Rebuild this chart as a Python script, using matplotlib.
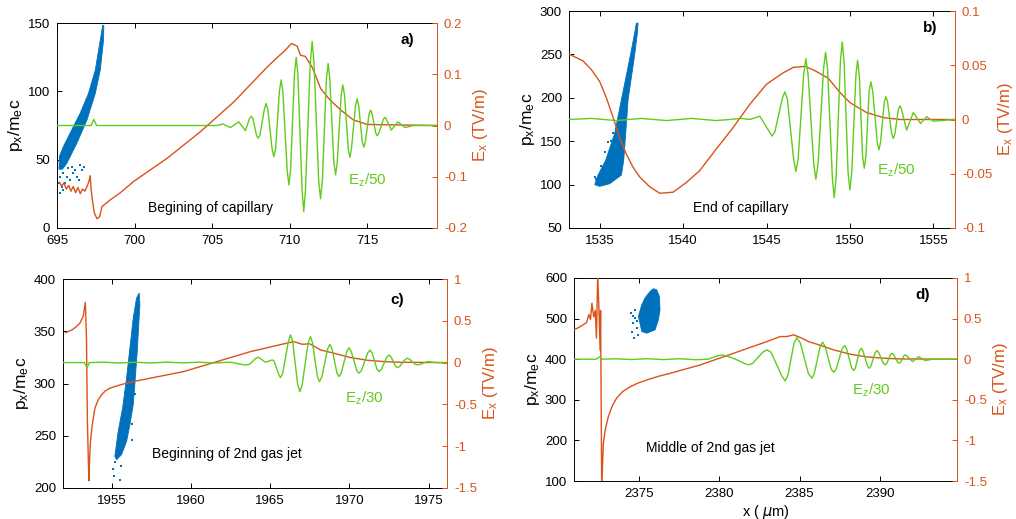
"""Beam momentum and wakefield snapshots at four positions along the plasma."""

import matplotlib
matplotlib.use("Agg")
import matplotlib.pyplot as plt
from matplotlib.ticker import FormatStrFormatter

plt.rcParams["font.family"] = ["Liberation Sans", "DejaVu Sans"]
plt.rcParams["mathtext.default"] = "regular"
plt.rcParams["axes.unicode_minus"] = False

BLUE = "#0072bd"
ORANGE = "#d95319"
GREEN = "#60cc1c"

# --- panel a: beginning of capillary ---
a_beam_x = [695.13, 695.15, 695.41, 695.84, 696.49, 697.03, 697.47, 697.79, 697.95,
            698.02, 698.0, 697.79, 697.47, 696.93, 696.28, 695.63, 695.35]
a_beam_y = [43, 52.2, 59.5, 69.3, 83.9, 98.5, 115.6, 137.5, 148.5,
            148, 137.5, 115.6, 98.5, 79, 62, 47.3, 43]
a_dots_x = [695.19, 695.41, 695.74, 695.95, 696.17, 696.49, 695.84, 695.52, 695.30,
            695.63, 696.06, 696.28, 696.60, 695.19, 695.41, 696.39, 696.71, 695.15]
a_dots_y = [37.5, 40, 43.7, 44.9, 42.4, 46.1, 35.1, 32.7, 30.2,
            37.5, 40, 37.5, 42.4, 25.4, 27.8, 35.1, 44.9, 32.7]
a_ex_x = [695.15, 695.3, 695.45, 695.6, 695.75, 695.9, 696.05, 696.2, 696.35, 696.5,
          696.65, 696.8, 696.95, 697.05, 697.14, 697.2, 697.28, 697.4, 697.58, 697.75,
          697.9, 698.44, 699.09, 699.95, 702.1, 704.25, 706.4, 708.55, 709.1, 709.62,
          710.12, 710.48, 710.7, 711.0, 711.45, 712.0, 712.6, 713.3, 714.1, 715.0, 719.5]
a_ex_y = [-0.111, -0.118, -0.112, -0.124, -0.117, -0.128, -0.119, -0.131, -0.121, -0.133,
          -0.124, -0.128, -0.118, -0.110, -0.098, -0.125, -0.145, -0.170, -0.182, -0.178,
          -0.158, -0.145, -0.131, -0.109, -0.064, -0.012, 0.046, 0.114, 0.130, 0.144,
          0.160, 0.155, 0.137, 0.135, 0.114, 0.072, 0.050, 0.030, 0.011, 0.002, 0.0]
a_ez_x = [695.0, 697.2, 697.37, 697.55, 705.3, 705.7, 706.18, 706.72, 707.15,
          707.41, 707.52, 707.63, 707.86, 707.97, 708.08, 708.37, 708.48, 708.59,
          708.87, 708.98, 709.09, 709.34, 709.45, 709.56, 709.84, 709.95, 710.06,
          710.31, 710.42, 710.53, 710.80, 710.91, 711.02, 711.33, 711.45, 711.57,
          711.87, 711.99, 712.11, 712.37, 712.48, 712.59, 712.85, 712.96, 713.07,
          713.32, 713.43, 713.54, 713.78, 713.88, 713.98, 714.25, 714.35, 714.45,
          714.68, 714.78, 714.88, 715.12, 715.22, 715.32, 715.55, 715.65, 715.75,
          716.04, 716.14, 716.24, 716.55, 716.98, 717.43, 718.0, 719.5]
a_ez_y = [0.0, 0.0, 0.012, 0.0, 0.0, 0.003, -0.004, 0.007, -0.010,
          0.0135, 0.018, 0.0135, -0.019, -0.025, -0.019, 0.032, 0.043, 0.032,
          -0.046, -0.061, -0.046, 0.067, 0.089, 0.067, -0.087, -0.116, -0.087,
          0.100, 0.133, 0.100, -0.126, -0.168, -0.126, 0.123, 0.164, 0.123,
          -0.107, -0.143, -0.107, 0.091, 0.121, 0.091, -0.072, -0.096, -0.072,
          0.059, 0.079, 0.059, -0.047, -0.062, -0.047, 0.039, 0.052, 0.039,
          -0.032, -0.042, -0.032, 0.0225, 0.030, 0.0225, -0.015, -0.020, -0.015,
          0.012, 0.016, 0.012, -0.009, 0.007, -0.004, 0.0, 0.0]

# --- panel b: end of capillary ---
b_beam_x = [1534.7, 1534.9, 1535.36, 1535.9, 1536.3, 1536.85, 1537.1, 1537.2,
            1537.3, 1537.26, 1537.1, 1536.7, 1536.56, 1536.44, 1536.3, 1535.6, 1535.0]
b_beam_y = [100, 111, 128, 159, 197.5, 250, 275, 286,
            286, 275, 250, 197.5, 159, 128, 111, 101, 98]
b_dots_x = [1534.9, 1534.8, 1535.5, 1535.7, 1535.3, 1535.1, 1535.8, 1534.7, 1535.4]
b_dots_y = [107.3, 106.3, 149.4, 150.5, 137.9, 121.5, 159.1, 108.6, 103]
b_ex_x = [1533.2, 1534.0, 1534.5, 1535.0, 1535.4, 1535.8, 1536.2, 1536.6, 1537.0, 1537.4,
          1538.0, 1538.6, 1539.4, 1540.2, 1541.0, 1542.0, 1543.0, 1544.0, 1545.0, 1546.0,
          1546.6, 1547.3, 1547.9, 1548.7, 1549.4, 1550.0, 1551.0, 1552.0, 1553.0, 1556.3]
b_ex_y = [0.060, 0.054, 0.046, 0.035, 0.020, 0.002, -0.017, -0.032, -0.044, -0.053,
          -0.062, -0.068, -0.067, -0.058, -0.047, -0.027, -0.0074, 0.014, 0.0325, 0.043,
          0.048, 0.049, 0.045, 0.038, 0.025, 0.0156, 0.0064, 0.0018, 0.0, 0.0]
b_ez_x = [1533.16, 1534.5, 1536.0, 1537.5, 1539.0, 1540.5, 1542.0, 1543.5, 1544.0, 1544.6,
          1545.18, 1545.34, 1545.50, 1545.94, 1546.10, 1546.25, 1546.62, 1546.76, 1546.90,
          1547.23, 1547.36, 1547.49, 1547.83, 1547.96, 1548.09, 1548.42, 1548.54, 1548.66,
          1548.95, 1549.06, 1549.17, 1549.43, 1549.54, 1549.65, 1549.89, 1550.0, 1550.11,
          1550.36, 1550.46, 1550.56, 1550.76, 1550.86, 1550.96, 1551.15, 1551.26, 1551.37,
          1551.64, 1551.74, 1551.84, 1552.06, 1552.16, 1552.26, 1552.50, 1552.60, 1552.70,
          1552.91, 1553.0, 1553.09, 1553.40, 1553.80, 1554.24, 1554.6, 1555.0, 1556.3]
b_ez_y = [0.0, 0.001, -0.001, 0.001, -0.001, 0.001, -0.001, 0.001, 0.0, 0.003,
          -0.0115, -0.0153, -0.0115, 0.019, 0.0255, 0.019, -0.036, -0.048, -0.036,
          0.042, 0.056, 0.042, -0.041, -0.055, -0.041, 0.0465, 0.062, 0.0465,
          -0.054, -0.072, -0.054, 0.0535, 0.0715, 0.0535, -0.049, -0.065, -0.049,
          0.041, 0.0546, 0.041, -0.034, -0.045, -0.034, 0.026, 0.0347, 0.026,
          -0.021, -0.028, -0.021, 0.016, 0.021, 0.016, -0.013, -0.0175, -0.013,
          0.0095, 0.0126, 0.0095, -0.0098, 0.0064, -0.0037, 0.0025, -0.0015, 0.0]

# --- panel c: beginning of 2nd gas jet ---
c_beam_x = [1955.21, 1955.42, 1955.70, 1955.95, 1956.16, 1956.37, 1956.58, 1956.75,
            1956.79, 1956.62, 1956.47, 1956.37, 1956.16, 1955.95, 1955.63, 1955.32]
c_beam_y = [230.2, 254.2, 276.6, 305.3, 334, 362.7, 381.8, 386.6,
            375.4, 330.7, 298.9, 279.7, 260.6, 244.6, 231.9, 227]
c_dots_x = [1955.16, 1955.57, 1955.53, 1956.3, 1956.32, 1955.22, 1955.1, 1956.7, 1956.45]
c_dots_y = [211.1, 220.7, 208, 246.2, 261, 225, 218, 375, 290]
c_ex_x = [1952.11, 1952.5, 1952.78, 1953.0, 1953.21, 1953.35, 1953.42, 1953.48, 1953.57,
          1953.62, 1953.67, 1953.78, 1953.95, 1954.15, 1954.37, 1954.6, 1954.89, 1955.53,
          1956.37, 1957.43, 1959.54, 1961.65, 1963.76, 1966.29, 1966.5, 1967.03, 1967.5,
          1968.19, 1969.03, 1970.08, 1971.14, 1972.19, 1973.25, 1976.16]
c_ex_y = [0.359, 0.39, 0.43, 0.47, 0.55, 0.72, 0.29, -0.71, -1.414,
          -1.15, -0.944, -0.75, -0.546, -0.45, -0.386, -0.34, -0.307, -0.267,
          -0.227, -0.187, -0.108, 0.012, 0.131, 0.243, 0.251, 0.219, 0.225,
          0.151, 0.112, 0.06, 0.028, 0.012, 0.004, 0.0]
c_ez_x = [1951.94, 1953.3, 1953.46, 1953.6, 1954.5, 1955.5, 1956.5, 1957.5, 1958.5,
          1959.5, 1960.5, 1961.5, 1962.5, 1963.2, 1963.44, 1963.7, 1964.08, 1964.24,
          1964.4, 1964.70, 1965.02, 1965.13, 1965.24, 1965.53, 1965.65, 1965.79,
          1966.15, 1966.29, 1966.43, 1966.74, 1966.88, 1967.03, 1967.40, 1967.55, 1967.68,
          1967.99, 1968.12, 1968.27, 1968.63, 1968.78, 1968.91, 1969.22, 1969.35, 1969.49,
          1969.84, 1969.98, 1970.12, 1970.47, 1970.61, 1970.77, 1971.15, 1971.31, 1971.44,
          1971.75, 1971.88, 1972.02, 1972.37, 1972.51, 1972.63, 1972.92, 1973.04, 1973.18,
          1973.53, 1973.67, 1973.81, 1974.16, 1974.30, 1974.45, 1974.94, 1975.5, 1976.16]
c_ez_y = [0.0, 0.0, -0.06, 0.0, 0.005, -0.005, 0.005, -0.005, 0.006,
          -0.004, 0.005, -0.004, 0.005, -0.021, -0.028, -0.021, 0.048, 0.064,
          0.048, 0.004, 0.024, 0.032, 0.024, -0.134, -0.179, -0.134,
          0.248, 0.331, 0.248, -0.26, -0.347, -0.26, 0.233, 0.311, 0.233,
          -0.17, -0.227, -0.17, 0.164, 0.219, 0.164, -0.125, -0.167, -0.125,
          0.134, 0.179, 0.134, -0.095, -0.127, -0.095, 0.113, 0.151, 0.113,
          -0.081, -0.108, -0.081, 0.069, 0.092, 0.069, -0.045, -0.06, -0.045,
          0.039, 0.052, 0.039, -0.021, -0.028, -0.021, 0.012, 0.0, 0.0]

# --- panel d: middle of 2nd gas jet ---
d_beam_x = [2376.08, 2376.25, 2376.29, 2376.19, 2375.98, 2375.46, 2375.15, 2375.04,
            2374.94, 2375.15, 2375.35, 2375.67, 2375.88]
d_beam_y = [571, 554.7, 521.7, 497, 472.3, 464, 468.2, 488.8,
            505.3, 534.1, 550.6, 567, 573.6]
d_dots_x = [2374.46, 2374.63, 2374.52, 2374.67, 2374.83, 2374.73, 2374.94, 2374.58,
            2374.7, 2374.85]
d_dots_y = [513.5, 488.8, 468.2, 451.7, 476.4, 501.1, 460, 505.3, 520, 495]
d_ex_x = [2370.92, 2371.3, 2371.7, 2371.85, 2371.95, 2372.04, 2372.15, 2372.25, 2372.32,
          2372.40, 2372.48, 2372.55, 2372.58, 2372.65, 2372.75, 2372.88, 2373.06, 2373.3,
          2373.58, 2373.95, 2374.42, 2374.9, 2375.46, 2376.2, 2376.92, 2378.79, 2380.88,
          2382.96, 2383.79, 2384.2, 2384.63, 2385.15, 2385.56, 2386.08, 2387.13, 2388.17,
          2389.21, 2390.25, 2391.29, 2394.83]
d_ex_y = [0.36, 0.40, 0.45, 0.55, 0.49, 0.69, 0.52, 0.60, 0.26,
          1.05, 0.59, 0.11, 0.60, -1.6, -1.04, -0.86, -0.71, -0.58,
          -0.48, -0.40, -0.34, -0.295, -0.256, -0.21, -0.174, -0.071, 0.073,
          0.217, 0.279, 0.279, 0.30, 0.259, 0.217, 0.185, 0.115, 0.061,
          0.028, 0.012, 0.003, 0.0]
d_ez_x = [2370.92, 2372.3, 2372.54, 2372.7, 2373.5, 2374.5, 2375.5, 2376.5, 2377.5,
          2378.5, 2379.3, 2379.85, 2380.15, 2380.45, 2381.0, 2381.55, 2381.81, 2382.07,
          2382.70, 2382.96, 2383.22, 2383.88, 2384.1, 2384.27, 2384.66, 2384.83, 2385.05,
          2385.55, 2385.77, 2385.92, 2386.29, 2386.44, 2386.6, 2386.97, 2387.13, 2387.29,
          2387.65, 2387.81, 2387.94, 2388.25, 2388.38, 2388.49, 2388.74, 2388.85, 2388.96,
          2389.24, 2389.35, 2389.46, 2389.72, 2389.83, 2389.95, 2390.23, 2390.35, 2390.45,
          2390.67, 2390.77, 2390.88, 2391.12, 2391.23, 2391.32, 2391.51, 2391.6, 2391.7,
          2392.06, 2392.44, 2392.85, 2393.3, 2394.83]
d_ez_y = [0.0, 0.0, 0.03, 0.0, 0.005, -0.004, 0.006, -0.005, 0.006,
          -0.006, 0.0, 0.04, 0.053, 0.04, 0.0, -0.052, -0.07, -0.052,
          0.086, 0.115, 0.086, -0.2, -0.268, -0.2, 0.2, 0.266, 0.2,
          -0.176, -0.235, -0.176, 0.157, 0.209, 0.157, -0.121, -0.161, -0.121,
          0.126, 0.168, 0.126, -0.105, -0.14, -0.105, 0.101, 0.135, 0.101,
          -0.084, -0.112, -0.084, 0.08, 0.106, 0.08, -0.052, -0.07, -0.052,
          0.055, 0.073, 0.055, -0.037, -0.05, -0.037, 0.04, 0.053, 0.04,
          -0.03, 0.032, -0.017, 0.0, 0.0]

W, H = 1016, 519
fig = plt.figure(figsize=(W / 100, H / 100), dpi=100)


def px_rect(l, t, r, b):
    return [l / W, 1 - b / H, (r - l) / W, (b - t) / H]


panels = [
    dict(rect=(57, 23, 437, 228), xlim=(695, 719.5), xticks=[695, 700, 705, 710, 715],
         yl=(0, 150), ylt=[0, 50, 100, 150], yr=(-0.2, 0.2), yrt=[-0.2, -0.1, 0, 0.1, 0.2],
         beam=(a_beam_x, a_beam_y), dots=(a_dots_x, a_dots_y),
         ex=(a_ex_x, a_ex_y), ez=(a_ez_x, a_ez_y),
         tag="a)", tag_xy=(0.921, 0.917), ez_lab="E$_z$/50", ez_xy=(0.766, 0.234),
         note="Begining of capillary", note_xy=(0.403, 0.098)),
    dict(rect=(569, 11, 955, 228), xlim=(1533.16, 1556.3),
         xticks=[1535, 1540, 1545, 1550, 1555],
         yl=(50, 300), ylt=[50, 100, 150, 200, 250, 300], yr=(-0.1, 0.1),
         yrt=[-0.1, -0.05, 0, 0.05, 0.1],
         beam=(b_beam_x, b_beam_y), dots=(b_dots_x, b_dots_y),
         ex=(b_ex_x, b_ex_y), ez=(b_ez_x, b_ez_y),
         tag="b)", tag_xy=(0.935, 0.922), ez_lab="E$_z$/50", ez_xy=(0.798, 0.267),
         note="End of capillary", note_xy=(0.446, 0.092)),
    dict(rect=(63, 279, 447, 488), xlim=(1951.94, 1976.16),
         xticks=[1955, 1960, 1965, 1970, 1975],
         yl=(200, 400), ylt=[200, 250, 300, 350, 400], yr=(-1.5, 1),
         yrt=[-1.5, -1, -0.5, 0, 0.5, 1],
         beam=(c_beam_x, c_beam_y), dots=(c_dots_x, c_dots_y),
         ex=(c_ex_x, c_ex_y), ez=(c_ez_x, c_ez_y),
         tag="c)", tag_xy=(0.87, 0.9), ez_lab="E$_z$/30", ez_xy=(0.734, 0.43),
         note="Beginning of 2nd gas jet", note_xy=(0.427, 0.163)),
    dict(rect=(574, 278, 957, 481), xlim=(2370.92, 2394.83),
         xticks=[2375, 2380, 2385, 2390],
         yl=(100, 600), ylt=[100, 200, 300, 400, 500, 600], yr=(-1.5, 1),
         yrt=[-1.5, -1, -0.5, 0, 0.5, 1],
         beam=(d_beam_x, d_beam_y), dots=(d_dots_x, d_dots_y),
         ex=(d_ex_x, d_ex_y), ez=(d_ez_x, d_ez_y),
         tag="d)", tag_xy=(0.911, 0.916), ez_lab="E$_z$/30", ez_xy=(0.726, 0.448),
         note="Middle of 2nd gas jet", note_xy=(0.355, 0.163)),
]

for p in panels:
    ax = fig.add_axes(px_rect(*p["rect"]))
    ax.fill(*p["beam"], color=BLUE, lw=0.6, zorder=2)
    ax.scatter(*p["dots"], s=2.5, marker="s", color=BLUE, lw=0, zorder=2)
    ax.set_xlim(p["xlim"])
    ax.set_ylim(p["yl"])
    ax.set_xticks(p["xticks"])
    ax.set_yticks(p["ylt"])
    ax.tick_params(direction="in", length=3.5, top=True, right=False, labelsize=9.5,
                   width=0.7, pad=5)
    ax.set_ylabel("p$_x$/m$_e$c", fontsize=12.5, labelpad=2)
    ax.spines["right"].set_visible(False)
    for s in ("left", "top", "bottom"):
        ax.spines[s].set_linewidth(0.7)

    ax2 = ax.twinx()
    ax2.plot(*p["ex"], color=ORANGE, lw=1.0)
    ax2.plot(*p["ez"], color=GREEN, lw=1.0)
    ax2.set_ylim(p["yr"])
    ax2.set_yticks(p["yrt"])
    ax2.yaxis.set_major_formatter(FormatStrFormatter("%g"))
    ax2.tick_params(axis="y", direction="in", length=3.5, colors=ORANGE, labelsize=9.5,
                    width=0.7, pad=5)
    ax2.spines["right"].set_color(ORANGE)
    ax2.spines["right"].set_linewidth(0.7)
    for s in ("left", "top", "bottom"):
        ax2.spines[s].set_visible(False)
    ax2.set_ylabel("E$_x$ (TV/m)", color=ORANGE, fontsize=12, labelpad=3)

    ax2.text(*p["tag_xy"], p["tag"], transform=ax.transAxes, fontsize=11,
             fontweight="bold", ha="center", va="center")
    ax2.text(*p["ez_xy"], p["ez_lab"], transform=ax.transAxes, fontsize=11,
             color=GREEN, ha="left", va="center")
    ax2.text(*p["note_xy"], p["note"], transform=ax.transAxes, fontsize=10,
             ha="center", va="center")

ax.set_xlabel(r"x ( $\mathit{\mu}$m)", fontsize=10.5, labelpad=2)

fig.savefig("out.png", dpi=100)
